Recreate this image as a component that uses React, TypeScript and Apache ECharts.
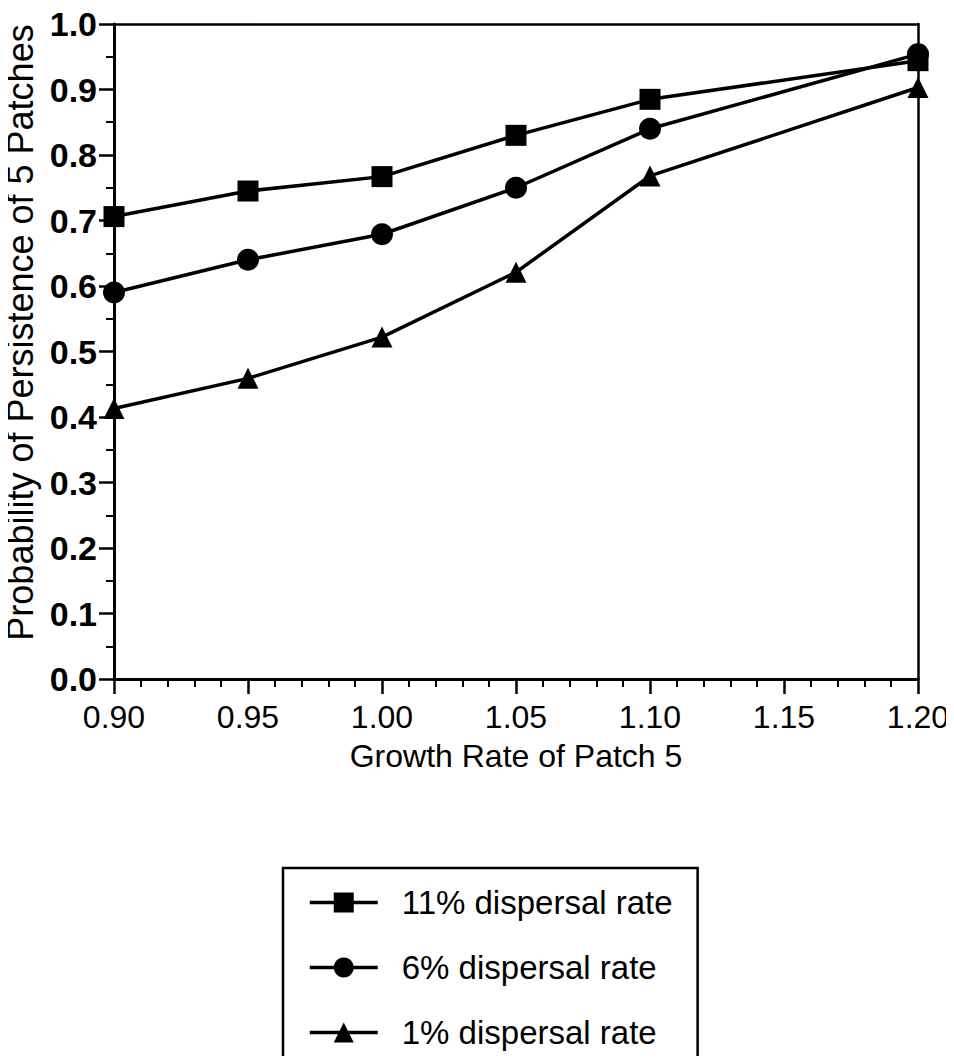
import React, { useEffect, useRef } from "react";
import * as echarts from "echarts";

// Data
const growthRates = [0.9, 0.95, 1.0, 1.05, 1.1, 1.2];
const dispersal11 = [0.706, 0.745, 0.767, 0.83, 0.885, 0.944];
const dispersal6 = [0.59, 0.64, 0.679, 0.75, 0.84, 0.954];
const dispersal1 = [0.413, 0.459, 0.522, 0.621, 0.768, 0.903];
const seriesNames = ["11% dispersal rate", "6% dispersal rate", "1% dispersal rate"];
const seriesSymbols = ["rect", "circle", "triangle"];
const seriesValues = [dispersal11, dispersal6, dispersal1];

const xTitle = "Growth Rate of Patch 5";
const yTitle = "Probability of Persistence of 5 Patches";

const FONT = "'Liberation Sans', Arial, sans-serif";
const BLACK = "#000";

export default function App() {
  const ref = useRef<HTMLDivElement>(null);

  useEffect(() => {
    if (!ref.current) return;
    const chart = echarts.init(ref.current, null, { renderer: "svg" });

    const series = seriesNames.map((name, i) => ({
      name,
      type: "line",
      data: growthRates.map((x, j) => [x, seriesValues[i][j]]),
      symbol: seriesSymbols[i],
      symbolSize: seriesSymbols[i] === "circle" ? 22 : 21,
      lineStyle: { color: BLACK, width: 3.5 },
      itemStyle: { color: BLACK },
      z: 3 - i,
    }));

    chart.setOption({
      animation: false,
      backgroundColor: "#fff",
      textStyle: { fontFamily: FONT },
      grid: {
        left: 114,
        right: 36,
        top: 24,
        bottom: 385,
        containLabel: false,
        outerBoundsMode: "none",
      },
      xAxis: [
        {
          type: "value",
          min: 0.9,
          max: 1.2,
          interval: 0.05,
          position: "bottom",
          axisLine: { show: true, onZero: false, lineStyle: { color: BLACK, width: 3 } },
          axisTick: { show: true, length: 15, lineStyle: { color: BLACK, width: 2.5 } },
          minorTick: { show: true, splitNumber: 5, length: 8, lineStyle: { color: BLACK, width: 2 } },
          splitLine: { show: false },
          minorSplitLine: { show: false },
          axisLabel: {
            formatter: (v: number) => v.toFixed(2),
            fontSize: 32,
            color: BLACK,
            margin: 22,
            fontFamily: FONT,
          },
          name: xTitle,
          nameLocation: "middle",
          nameGap: 61,
          nameTextStyle: { fontSize: 32, color: BLACK, fontFamily: FONT },
        },
        {
          type: "value",
          min: 0.9,
          max: 1.2,
          position: "top",
          axisLine: { show: true, onZero: false, lineStyle: { color: BLACK, width: 2.5 } },
          axisTick: { show: false },
          axisLabel: { show: false },
          splitLine: { show: false },
        },
      ],
      yAxis: [
        {
          type: "value",
          min: 0,
          max: 1,
          interval: 0.1,
          position: "left",
          axisLine: { show: true, onZero: false, lineStyle: { color: BLACK, width: 3 } },
          axisTick: { show: true, length: 15, lineStyle: { color: BLACK, width: 2.5 } },
          minorTick: { show: true, splitNumber: 2, length: 8, lineStyle: { color: BLACK, width: 2 } },
          splitLine: { show: false },
          minorSplitLine: { show: false },
          axisLabel: {
            formatter: (v: number) => v.toFixed(1),
            fontSize: 34,
            fontWeight: "bold",
            color: BLACK,
            margin: 17,
            fontFamily: FONT,
          },
          name: yTitle,
          nameLocation: "middle",
          nameGap: 72,
          nameTextStyle: {
            fontSize: 36,
            color: BLACK,
            fontFamily: FONT,
            padding: [0, 0, 0, 38],
          },
        },
        {
          type: "value",
          min: 0,
          max: 1,
          position: "right",
          axisLine: { show: true, onZero: false, lineStyle: { color: BLACK, width: 2.5 } },
          axisTick: { show: false },
          axisLabel: { show: false },
          splitLine: { show: false },
        },
      ],
      legend: {
        orient: "vertical",
        left: 283,
        top: 868,
        height: 170,
        itemWidth: 68,
        itemHeight: 25,
        itemGap: 32,
        padding: [18, 25, 9, 25],
        borderColor: BLACK,
        borderWidth: 2.5,
        selectedMode: false,
        data: seriesNames,
        lineStyle: { color: BLACK, width: 3.5 },
        itemStyle: { color: BLACK },
        textStyle: {
          fontSize: 33,
          color: BLACK,
          fontFamily: FONT,
          lineHeight: 30,
          padding: [0, 0, 0, 19],
        },
      },
      series,
    });

    return () => chart.dispose();
  }, []);

  return <div ref={ref} style={{ width: 954, height: 1064, margin: -8 }} />;
}
